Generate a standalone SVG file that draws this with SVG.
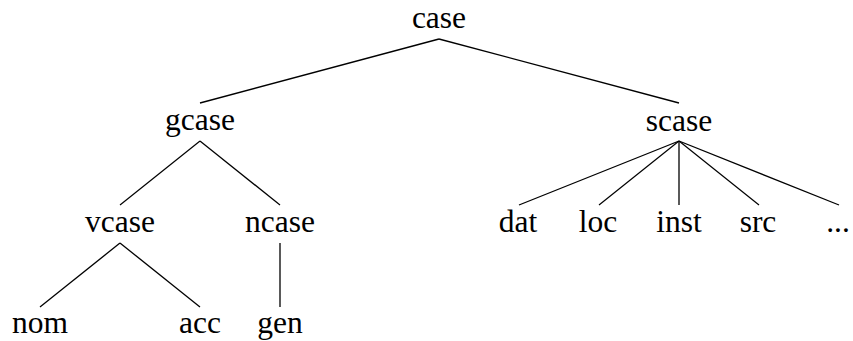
<svg xmlns="http://www.w3.org/2000/svg" width="853" height="341" viewBox="0 0 853 341">
<style>
text{font-family:"Liberation Serif",serif;font-size:31.5px;fill:#000;text-anchor:middle}
.e line{stroke:#000;stroke-width:1.3;fill:none}
</style>
<rect width="853" height="341" fill="#fff"/>
<g class="e" id="connectors">
<line x1="439" y1="39" x2="200" y2="103"/>
<line x1="439" y1="39" x2="679" y2="103"/>
<line x1="200" y1="141" x2="120" y2="205"/>
<line x1="200" y1="141" x2="280" y2="205"/>
<line x1="120" y1="243" x2="40" y2="307"/>
<line x1="120" y1="243" x2="200" y2="307"/>
<line x1="280" y1="243" x2="280" y2="307"/>
<line x1="679" y1="141" x2="519" y2="205"/>
<line x1="679" y1="141" x2="599" y2="205"/>
<line x1="679" y1="141" x2="679" y2="205"/>
<line x1="679" y1="141" x2="759" y2="205"/>
<line x1="679" y1="141" x2="839" y2="205"/>
</g>
<g id="case"><text x="439" y="28">case</text></g>
<g id="gcase"><text x="200" y="130">gcase</text></g>
<g id="scase"><text x="679" y="131">scase</text></g>
<g id="vcase"><text x="120" y="232">vcase</text></g>
<g id="ncase"><text x="280" y="232">ncase</text></g>
<g id="nom"><text x="40" y="333">nom</text></g>
<g id="acc"><text x="200" y="333">acc</text></g>
<g id="gen"><text x="280" y="333">gen</text></g>
<g id="dat"><text x="518" y="232">dat</text></g>
<g id="loc"><text x="598" y="232">loc</text></g>
<g id="inst"><text x="679" y="232">inst</text></g>
<g id="src"><text x="758" y="232">src</text></g>
<g id="more"><text x="838" y="232">...</text></g>
</svg>
